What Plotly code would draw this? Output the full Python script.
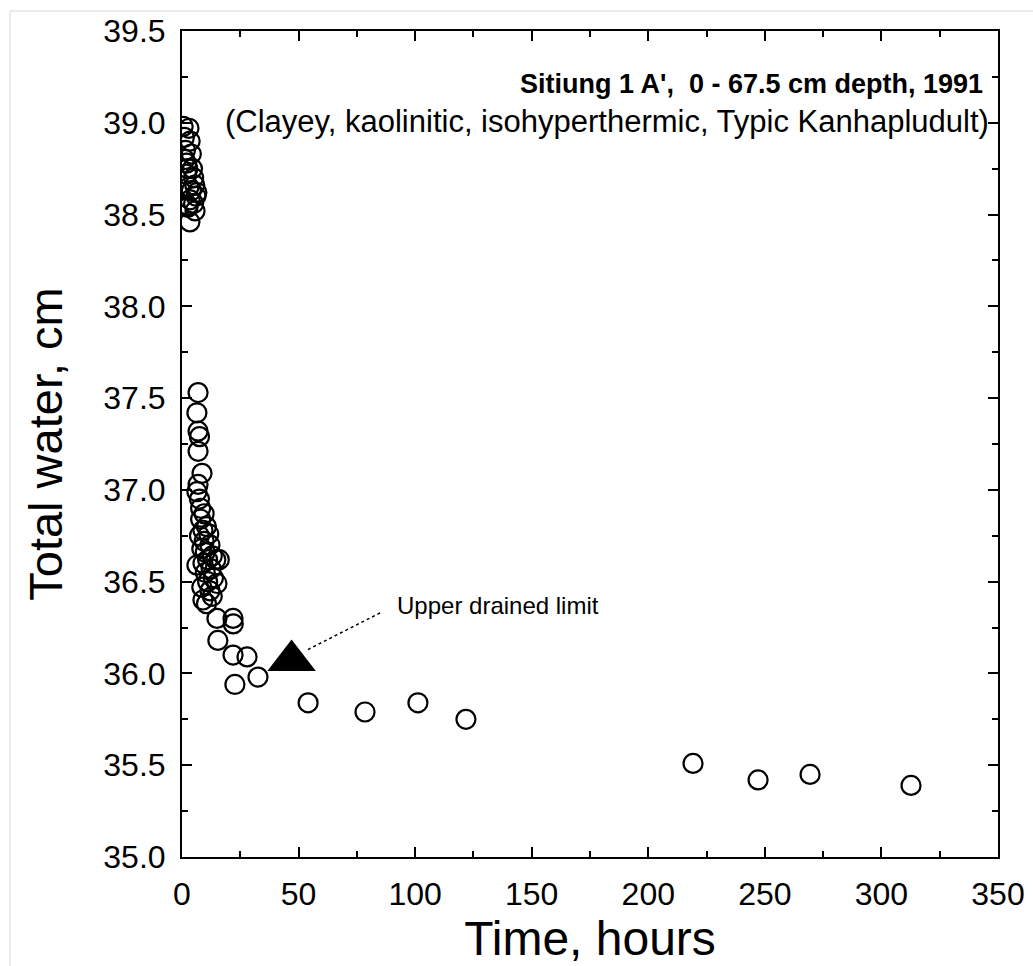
import plotly.graph_objects as go

# Total profile water (cm) vs. time since wetting (hours)
time_h = [
    0.5, 1.0, 1.5, 2.0, 2.5, 3.0, 3.5, 1.2, 4.0, 4.5, 5.0, 2.0, 3.0, 4.0, 5.5,
    6.0, 3.5, 5.0, 2.5, 3.4, 6.4, 2.6, 5.6,
    6.9, 6.4, 6.9, 7.5, 6.9, 8.6, 6.9, 6.4, 7.5, 8.0, 9.5, 8.0, 10.5, 9.0, 7.5,
    11.5, 9.5, 8.5, 12.0, 10.0, 13.0, 6.4, 11.0, 9.0, 14.5, 12.5, 10.0, 13.5,
    11.0, 15.0, 8.5, 12.0, 9.0, 13.0, 10.5, 16.0, 15.0, 21.9, 22.0, 15.4, 21.9,
    27.9, 22.7,
    32.6, 54.1, 78.5, 101.2, 121.8, 219.2, 247.1, 269.4, 312.7,
]
water_cm = [
    38.98, 38.92, 38.85, 38.78, 38.75, 38.97, 38.90, 38.80, 38.83, 38.75, 38.70,
    38.72, 38.65, 38.63, 38.66, 38.60, 38.58, 38.56, 38.55, 38.46, 38.62, 38.54,
    38.52,
    37.53, 37.42, 37.32, 37.29, 37.21, 37.09, 37.03, 36.99, 36.95, 36.90, 36.87,
    36.84, 36.80, 36.78, 36.75, 36.76, 36.72, 36.68, 36.70, 36.66, 36.64, 36.59,
    36.62, 36.60, 36.62, 36.57, 36.55, 36.52, 36.50, 36.49, 36.47, 36.45, 36.40,
    36.42, 36.38, 36.62, 36.30, 36.30, 36.27, 36.18, 36.10, 36.09, 35.94,
    35.98, 35.84, 35.79, 35.84, 35.75, 35.51, 35.42, 35.45, 35.39,
]

# Upper drained limit
udl_time = [47.0]
udl_water = [36.07]

x_ticks = [0, 50, 100, 150, 200, 250, 300, 350]
y_ticks = [35.0, 35.5, 36.0, 36.5, 37.0, 37.5, 38.0, 38.5, 39.0, 39.5]

FONT = "Liberation Sans, Arial, Helvetica, sans-serif"

fig = go.Figure()
fig.add_trace(go.Scatter(
    x=time_h, y=water_cm, mode="markers",
    marker=dict(symbol="circle-open", size=19, color="black", line=dict(width=2.2)),
    showlegend=False,
))
fig.add_trace(go.Scatter(
    x=udl_time, y=udl_water, mode="markers",
    marker=dict(symbol="triangle-up", size=42, color="black"),
    showlegend=False,
))

# dotted leader from the label to the triangle
fig.add_shape(type="line", xref="x", yref="y", x0=54, y0=36.13, x1=85, y1=36.33,
              line=dict(color="black", width=1.5, dash="dot"))
fig.add_annotation(x=91.4, y=36.37, xref="x", yref="y", text="Upper drained limit",
                   showarrow=False, xanchor="left", yanchor="middle",
                   font=dict(family=FONT, size=24, color="black"))

fig.add_annotation(x=0.984, y=0.936, xref="paper", yref="paper",
                   text="<b>Sitiung 1 A',  0 - 67.5 cm depth, 1991</b>",
                   showarrow=False, xanchor="right", yanchor="middle",
                   font=dict(family=FONT, size=27, color="black"))
fig.add_annotation(x=0.992, y=0.890, xref="paper", yref="paper",
                   text="(Clayey, kaolinitic, isohyperthermic, Typic Kanhapludult)",
                   showarrow=False, xanchor="right", yanchor="middle",
                   font=dict(family=FONT, size=31, color="black"))

# light frame lines along the top and left edges of the page
fig.add_shape(type="line", xref="paper", yref="paper", x0=-0.2108, y0=1.0242,
              x1=1.05, y1=1.0242, line=dict(color="#d6d6d6", width=1))
fig.add_shape(type="line", xref="paper", yref="paper", x0=-0.2108, y0=1.0242,
              x1=-0.2108, y1=-0.14, line=dict(color="#d6d6d6", width=1))

axis_common = dict(
    showline=True, linecolor="black", linewidth=2, mirror="ticks",
    ticks="inside", ticklen=10, tickwidth=2, tickcolor="black",
    showgrid=False, zeroline=False, ticklabelstandoff=8, automargin=False,
    tickfont=dict(family=FONT, size=32, color="black"),
)

fig.update_xaxes(
    range=[0, 350], tickvals=x_ticks, ticktext=[str(v) for v in x_ticks],
    minor=dict(ticks="inside", ticklen=6, tickwidth=2, tickcolor="black", dtick=25,
               showgrid=False),
    title=dict(text="Time, hours", font=dict(family=FONT, size=48, color="black"),
               standoff=10),
    **axis_common,
)
fig.update_yaxes(
    range=[35.0, 39.5], tickvals=y_ticks, ticktext=[f"{v:.1f}" for v in y_ticks],
    minor=dict(ticks="inside", ticklen=6, tickwidth=2, tickcolor="black", dtick=0.25,
               showgrid=False),
    title=dict(text="Total water, cm", font=dict(family=FONT, size=47, color="black"),
               standoff=26),
    **axis_common,
)

fig.update_layout(
    width=1033, height=966,
    margin=dict(l=182, r=35, t=31, b=109),
    paper_bgcolor="white", plot_bgcolor="white",
)

fig.write_html("out.html")
